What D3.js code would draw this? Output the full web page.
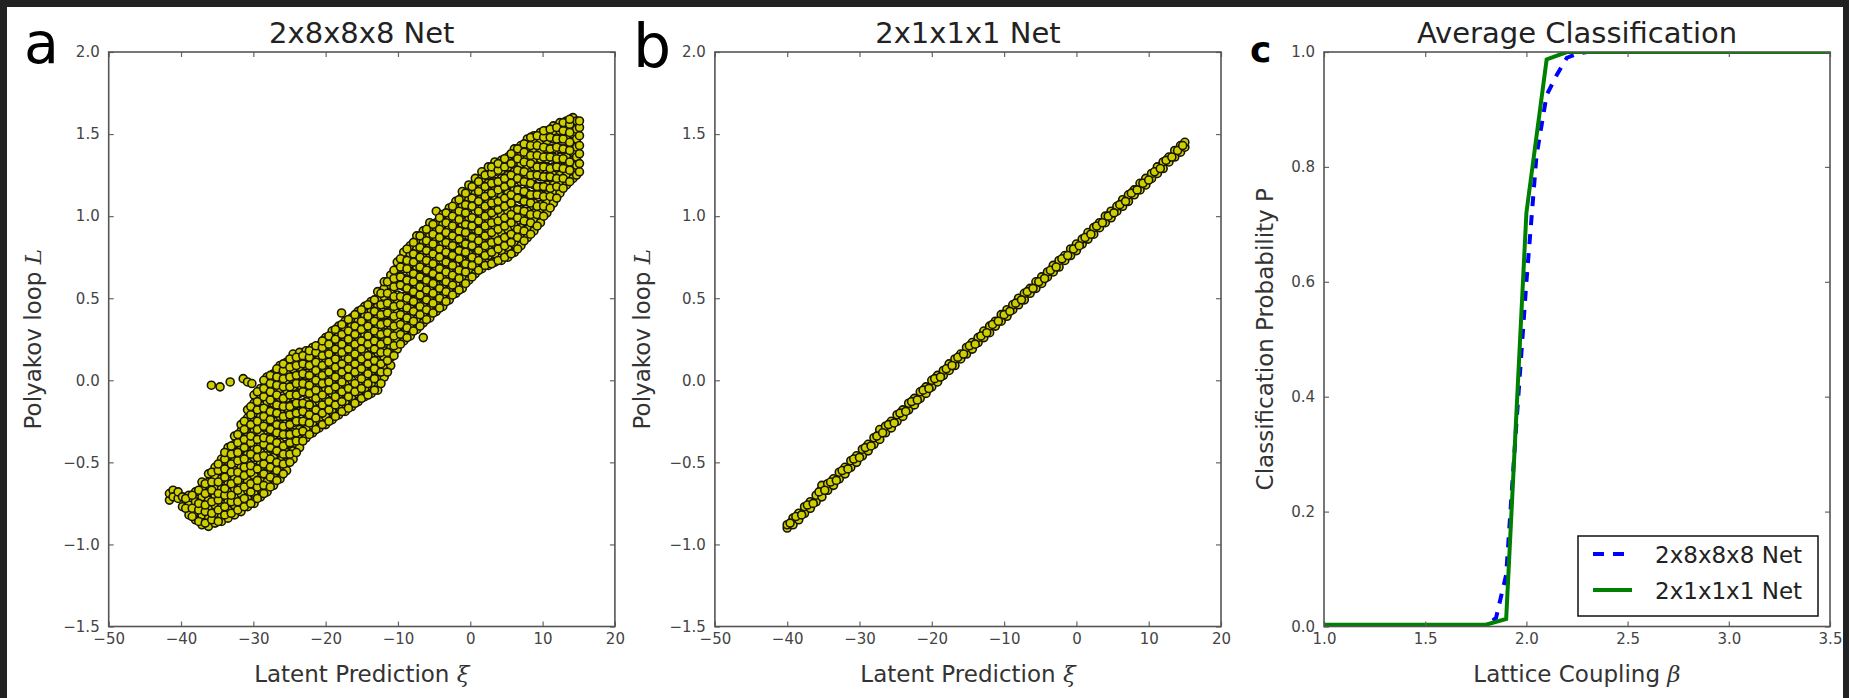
<!DOCTYPE html>
<html>
<head>
<meta charset="utf-8">
<script src="https://cdn.jsdelivr.net/npm/d3@7"></script>
<style>
body { margin: 0; background: #fff; }
text { font-family: "DejaVu Sans", sans-serif; }
</style>
</head>
<body>
<div id="fig"></div>
<script>
// ---- data ----
var latentTicks = [-50, -40, -30, -20, -10, 0, 10, 20];
var loopTicks = [-1.5, -1.0, -0.5, 0.0, 0.5, 1.0, 1.5, 2.0];
var betaTicks = [1.0, 1.5, 2.0, 2.5, 3.0, 3.5];
var probTicks = [0.0, 0.2, 0.4, 0.6, 0.8, 1.0];

var panelTitles = ["2x8x8x8 Net", "2x1x1x1 Net", "Average Classification"];
var panelLetters = ["a", "b", "c"];
var legendLabels = ["2x8x8x8 Net", "2x1x1x1 Net"];

// panel a : each row = [xi, L, L, ...]
var cloud8 = [
  [-41.6, -0.73, -0.69],
  [-41.1, -0.67, -0.71],
  [-40.4, -0.72, -0.68],
  [-39.8, -0.77, -0.71],
  [-38.9, -0.82, -0.76, -0.70],
  [-38.0, -0.85, -0.80, -0.74, -0.68],
  [-37.1, -0.88, -0.82, -0.77, -0.71, -0.66, -0.62],
  [-36.2, -0.89, -0.84, -0.78, -0.73, -0.68, -0.62, -0.57],
  [-35.8, -0.03],
  [-35.3, -0.87, -0.81, -0.76, -0.70, -0.65, -0.59, -0.53],
  [-34.6, -0.04],
  [-34.4, -0.86, -0.82, -0.77, -0.71, -0.66, -0.60, -0.55, -0.48],
  [-33.5, -0.84, -0.79, -0.74, -0.68, -0.63, -0.57, -0.52, -0.46, -0.41],
  [-33.2, -0.01],
  [-32.6, -0.82, -0.76, -0.71, -0.66, -0.60, -0.55, -0.49, -0.44, -0.39, -0.34],
  [-31.7, -0.80, -0.75, -0.69, -0.64, -0.58, -0.53, -0.47, -0.42, -0.36, -0.31, -0.27],
  [-31.4, 0.01],
  [-30.8, -0.77, -0.72, -0.67, -0.61, -0.56, -0.50, -0.45, -0.39, -0.34, -0.28, -0.23, -0.18, -0.01],
  [-30.2, -0.02],
  [-29.9, -0.75, -0.69, -0.64, -0.58, -0.53, -0.47, -0.42, -0.36, -0.31, -0.25, -0.20, -0.14, -0.09],
  [-29.0, -0.71, -0.66, -0.61, -0.55, -0.50, -0.44, -0.39, -0.33, -0.28, -0.22, -0.17, -0.11, -0.05],
  [-28.1, -0.68, -0.62, -0.57, -0.51, -0.46, -0.40, -0.35, -0.29, -0.24, -0.18, -0.13, -0.07, -0.02, 0.02],
  [-27.2, -0.64, -0.58, -0.53, -0.47, -0.42, -0.36, -0.31, -0.25, -0.20, -0.14, -0.09, -0.03, 0.04],
  [-26.3, -0.60, -0.55, -0.49, -0.44, -0.38, -0.33, -0.27, -0.22, -0.16, -0.11, -0.05, 0.00, 0.05, 0.09],
  [-25.4, -0.55, -0.50, -0.44, -0.39, -0.33, -0.28, -0.22, -0.17, -0.11, -0.06, 0.00, 0.05, 0.11],
  [-24.5, -0.48, -0.43, -0.37, -0.32, -0.26, -0.21, -0.15, -0.10, -0.04, 0.01, 0.07, 0.12, 0.16],
  [-23.6, -0.41, -0.36, -0.30, -0.25, -0.19, -0.14, -0.08, -0.03, 0.03, 0.08, 0.13, 0.17],
  [-22.7, -0.35, -0.30, -0.24, -0.19, -0.13, -0.08, -0.02, 0.03, 0.09, 0.14, 0.18],
  [-21.8, -0.32, -0.26, -0.21, -0.15, -0.10, -0.04, 0.01, 0.07, 0.12, 0.17, 0.20],
  [-20.9, -0.29, -0.24, -0.18, -0.13, -0.07, -0.02, 0.04, 0.09, 0.15, 0.21],
  [-20.0, -0.27, -0.22, -0.16, -0.11, -0.05, 0.00, 0.06, 0.11, 0.17, 0.22, 0.26],
  [-19.1, -0.24, -0.19, -0.13, -0.08, -0.02, 0.03, 0.09, 0.14, 0.20, 0.25, 0.30],
  [-18.2, -0.21, -0.16, -0.10, -0.05, 0.01, 0.06, 0.12, 0.17, 0.23, 0.28, 0.33],
  [-17.8, 0.41],
  [-17.3, -0.19, -0.13, -0.08, -0.02, 0.03, 0.09, 0.14, 0.20, 0.25, 0.31, 0.36],
  [-16.4, -0.16, -0.11, -0.05, 0.00, 0.06, 0.11, 0.17, 0.22, 0.28, 0.33, 0.38],
  [-15.5, -0.13, -0.07, -0.02, 0.04, 0.09, 0.15, 0.20, 0.26, 0.31, 0.37, 0.42],
  [-14.6, -0.10, -0.05, 0.01, 0.06, 0.12, 0.17, 0.23, 0.28, 0.34, 0.39, 0.45],
  [-13.7, -0.08, -0.02, 0.03, 0.09, 0.14, 0.20, 0.25, 0.31, 0.36, 0.42, 0.48],
  [-12.8, -0.06, 0.01, 0.06, 0.12, 0.17, 0.23, 0.28, 0.34, 0.39, 0.45, 0.50, 0.54],
  [-11.9, 0.02, 0.07, 0.13, 0.18, 0.24, 0.29, 0.35, 0.40, 0.46, 0.51, 0.56, 0.60],
  [-11.0, 0.09, 0.14, 0.20, 0.25, 0.31, 0.36, 0.42, 0.47, 0.53, 0.58, 0.64],
  [-10.1, 0.19, 0.25, 0.30, 0.36, 0.41, 0.47, 0.52, 0.58, 0.63, 0.68, 0.72],
  [-9.2, 0.24, 0.29, 0.35, 0.40, 0.46, 0.51, 0.57, 0.62, 0.68, 0.73, 0.78],
  [-8.3, 0.27, 0.33, 0.38, 0.44, 0.49, 0.55, 0.60, 0.66, 0.71, 0.77, 0.82],
  [-7.4, 0.31, 0.36, 0.42, 0.47, 0.53, 0.58, 0.64, 0.69, 0.75, 0.80, 0.85, 0.88],
  [-6.5, 0.26, 0.35, 0.40, 0.46, 0.51, 0.57, 0.62, 0.68, 0.73, 0.79, 0.84, 0.91],
  [-5.6, 0.38, 0.44, 0.49, 0.55, 0.60, 0.66, 0.71, 0.77, 0.82, 0.88, 0.93, 0.96],
  [-4.7, 0.42, 0.47, 0.53, 0.58, 0.64, 0.69, 0.75, 0.80, 0.86, 0.91, 0.96, 1.03],
  [-3.8, 0.45, 0.51, 0.56, 0.62, 0.67, 0.73, 0.78, 0.84, 0.89, 0.95, 1.01],
  [-2.9, 0.49, 0.55, 0.60, 0.66, 0.71, 0.77, 0.82, 0.88, 0.93, 0.99, 1.05],
  [-2.0, 0.53, 0.59, 0.64, 0.70, 0.75, 0.81, 0.86, 0.92, 0.97, 1.03, 1.09],
  [-1.1, 0.56, 0.62, 0.68, 0.73, 0.79, 0.84, 0.90, 0.95, 1.01, 1.06, 1.12, 1.15],
  [-0.2, 0.61, 0.66, 0.72, 0.77, 0.83, 0.88, 0.94, 0.99, 1.05, 1.10, 1.16, 1.19],
  [0.7, 0.65, 0.70, 0.76, 0.81, 0.87, 0.92, 0.98, 1.03, 1.09, 1.14, 1.20, 1.23],
  [1.6, 0.68, 0.74, 0.79, 0.85, 0.90, 0.96, 1.01, 1.07, 1.12, 1.18, 1.23, 1.27],
  [2.5, 0.70, 0.76, 0.81, 0.87, 0.92, 0.98, 1.03, 1.09, 1.14, 1.20, 1.25, 1.30],
  [3.4, 0.72, 0.77, 0.83, 0.88, 0.94, 0.99, 1.05, 1.10, 1.16, 1.21, 1.27, 1.33],
  [4.3, 0.73, 0.79, 0.84, 0.90, 0.95, 1.01, 1.06, 1.12, 1.17, 1.23, 1.28, 1.34],
  [5.2, 0.75, 0.81, 0.86, 0.92, 0.97, 1.03, 1.08, 1.14, 1.19, 1.25, 1.30, 1.36],
  [6.1, 0.78, 0.83, 0.89, 0.94, 1.00, 1.05, 1.11, 1.16, 1.22, 1.27, 1.33, 1.38, 1.41],
  [7.0, 0.82, 0.88, 0.93, 0.99, 1.04, 1.10, 1.15, 1.21, 1.26, 1.32, 1.37, 1.43],
  [7.9, 0.87, 0.92, 0.98, 1.03, 1.09, 1.14, 1.20, 1.25, 1.31, 1.36, 1.42, 1.47],
  [8.8, 0.91, 0.97, 1.02, 1.08, 1.13, 1.19, 1.24, 1.30, 1.35, 1.41, 1.46, 1.49],
  [9.7, 0.96, 1.02, 1.07, 1.13, 1.18, 1.24, 1.29, 1.35, 1.40, 1.46, 1.51],
  [10.6, 1.02, 1.08, 1.13, 1.19, 1.24, 1.30, 1.35, 1.41, 1.46, 1.52],
  [11.5, 1.08, 1.14, 1.19, 1.25, 1.30, 1.36, 1.41, 1.47, 1.52, 1.55],
  [12.4, 1.14, 1.19, 1.25, 1.30, 1.36, 1.41, 1.47, 1.52, 1.57],
  [13.3, 1.19, 1.25, 1.30, 1.36, 1.41, 1.47, 1.52, 1.58],
  [14.2, 1.23, 1.28, 1.34, 1.39, 1.45, 1.50, 1.56, 1.60],
  [14.7, 1.25, 1.31, 1.36, 1.42, 1.47, 1.53, 1.58],
  [15.1, 1.27, 1.32, 1.38, 1.43, 1.49, 1.54, 1.58]
];

// panel a, points lying between the columns above
var cloud8Mid = [
  [-39.35, -0.78, -0.72],
  [-38.45, -0.83, -0.78, -0.70],
  [-37.55, -0.86, -0.79, -0.75, -0.67],
  [-36.65, -0.87, -0.80, -0.76, -0.69, -0.63],
  [-35.75, -0.85, -0.81, -0.74, -0.67, -0.62, -0.56],
  [-34.85, -0.86, -0.79, -0.73, -0.69, -0.62, -0.55, -0.51],
  [-33.95, -0.82, -0.77, -0.70, -0.66, -0.59, -0.54, -0.48, -0.44],
  [-33.05, -0.81, -0.74, -0.70, -0.63, -0.56, -0.51, -0.45, -0.40],
  [-32.15, -0.79, -0.74, -0.67, -0.61, -0.56, -0.49, -0.44, -0.38, -0.33],
  [-31.25, -0.77, -0.72, -0.65, -0.58, -0.53, -0.48, -0.41, -0.36, -0.30, -0.25],
  [-30.35, -0.75, -0.68, -0.63, -0.56, -0.52, -0.45, -0.38, -0.34, -0.27, -0.21, -0.16],
  [-29.45, -0.72, -0.65, -0.61, -0.54, -0.47, -0.42, -0.36, -0.30, -0.25, -0.18, -0.13, -0.07],
  [-28.55, -0.69, -0.64, -0.57, -0.51, -0.46, -0.39, -0.35, -0.28, -0.22, -0.17, -0.10, -0.05, 0.00],
  [-27.65, -0.65, -0.59, -0.53, -0.48, -0.41, -0.36, -0.30, -0.24, -0.19, -0.12, -0.07, -0.02, 0.03],
  [-26.75, -0.61, -0.55, -0.50, -0.43, -0.38, -0.32, -0.27, -0.20, -0.15, -0.09, -0.03, 0.02, 0.07],
  [-25.85, -0.57, -0.51, -0.45, -0.40, -0.33, -0.28, -0.22, -0.16, -0.11, -0.04, 0.01, 0.06, 0.10],
  [-24.95, -0.50, -0.45, -0.38, -0.33, -0.27, -0.21, -0.16, -0.09, -0.04, 0.02, 0.08, 0.13],
  [-24.05, -0.44, -0.37, -0.32, -0.25, -0.20, -0.14, -0.09, -0.02, 0.03, 0.09, 0.14],
  [-23.15, -0.37, -0.31, -0.25, -0.19, -0.14, -0.07, -0.02, 0.04, 0.10, 0.15],
  [-22.25, -0.33, -0.26, -0.21, -0.15, -0.08, -0.03, 0.03, 0.09, 0.14, 0.18],
  [-21.35, -0.30, -0.23, -0.18, -0.11, -0.06, 0.00, 0.06, 0.11, 0.17, 0.21],
  [-20.45, -0.27, -0.20, -0.15, -0.09, -0.02, 0.03, 0.09, 0.15, 0.20, 0.24],
  [-19.55, -0.25, -0.18, -0.13, -0.06, -0.01, 0.05, 0.11, 0.16, 0.22, 0.27],
  [-18.65, -0.22, -0.15, -0.10, -0.04, 0.02, 0.08, 0.13, 0.19, 0.25, 0.31],
  [-17.75, -0.19, -0.13, -0.07, -0.01, 0.05, 0.10, 0.17, 0.22, 0.28, 0.34],
  [-16.85, -0.17, -0.10, -0.05, 0.02, 0.07, 0.13, 0.19, 0.25, 0.30, 0.37],
  [-15.95, -0.14, -0.07, -0.02, 0.05, 0.10, 0.16, 0.22, 0.28, 0.33, 0.40],
  [-15.05, -0.11, -0.05, 0.01, 0.07, 0.13, 0.19, 0.24, 0.31, 0.36, 0.43],
  [-14.15, -0.09, -0.02, 0.04, 0.10, 0.15, 0.22, 0.27, 0.33, 0.39, 0.46],
  [-13.25, -0.06, 0.01, 0.07, 0.12, 0.19, 0.24, 0.30, 0.36, 0.42, 0.49],
  [-12.35, -0.02, 0.05, 0.10, 0.17, 0.22, 0.28, 0.34, 0.40, 0.46, 0.53],
  [-11.45, 0.05, 0.12, 0.17, 0.24, 0.29, 0.35, 0.41, 0.47, 0.53, 0.60],
  [-10.55, 0.15, 0.21, 0.27, 0.33, 0.39, 0.45, 0.51, 0.57, 0.62, 0.67],
  [-9.65, 0.22, 0.28, 0.34, 0.40, 0.46, 0.51, 0.58, 0.63, 0.69, 0.74],
  [-8.75, 0.26, 0.32, 0.38, 0.44, 0.50, 0.56, 0.61, 0.68, 0.73, 0.80],
  [-7.85, 0.30, 0.36, 0.42, 0.48, 0.54, 0.60, 0.65, 0.72, 0.77, 0.84],
  [-6.95, 0.33, 0.40, 0.45, 0.52, 0.57, 0.63, 0.69, 0.75, 0.81, 0.88],
  [-6.05, 0.37, 0.43, 0.49, 0.55, 0.61, 0.67, 0.73, 0.79, 0.85, 0.92],
  [-5.15, 0.41, 0.47, 0.53, 0.59, 0.65, 0.71, 0.77, 0.83, 0.89, 0.95],
  [-4.25, 0.44, 0.50, 0.56, 0.63, 0.68, 0.75, 0.80, 0.87, 0.92, 0.99],
  [-3.35, 0.48, 0.54, 0.60, 0.66, 0.72, 0.78, 0.84, 0.90, 0.96, 1.02],
  [-2.45, 0.52, 0.58, 0.64, 0.70, 0.76, 0.82, 0.88, 0.94, 1.00, 1.06],
  [-1.55, 0.55, 0.62, 0.67, 0.74, 0.79, 0.86, 0.91, 0.98, 1.03, 1.10],
  [-0.65, 0.59, 0.66, 0.71, 0.78, 0.83, 0.90, 0.95, 1.02, 1.07, 1.14],
  [0.25, 0.63, 0.70, 0.75, 0.82, 0.87, 0.94, 0.99, 1.06, 1.11, 1.18],
  [1.15, 0.67, 0.73, 0.79, 0.85, 0.91, 0.97, 1.03, 1.09, 1.15, 1.21],
  [2.05, 0.70, 0.76, 0.82, 0.88, 0.94, 1.00, 1.06, 1.12, 1.18, 1.25],
  [2.95, 0.71, 0.78, 0.84, 0.90, 0.96, 1.02, 1.08, 1.14, 1.20, 1.26, 1.30],
  [3.85, 0.73, 0.80, 0.85, 0.92, 0.97, 1.04, 1.09, 1.16, 1.21, 1.28, 1.32],
  [4.75, 0.75, 0.82, 0.87, 0.94, 0.99, 1.06, 1.11, 1.18, 1.23, 1.30, 1.35],
  [5.65, 0.77, 0.84, 0.89, 0.96, 1.01, 1.08, 1.13, 1.20, 1.25, 1.32, 1.38],
  [6.55, 0.80, 0.87, 0.92, 0.99, 1.04, 1.11, 1.16, 1.23, 1.28, 1.35, 1.41],
  [7.45, 0.85, 0.91, 0.97, 1.03, 1.09, 1.15, 1.21, 1.27, 1.33, 1.39, 1.44],
  [8.35, 0.89, 0.96, 1.01, 1.08, 1.13, 1.20, 1.25, 1.32, 1.37, 1.43, 1.48],
  [9.25, 0.94, 1.01, 1.06, 1.13, 1.18, 1.25, 1.30, 1.37, 1.43, 1.49],
  [10.15, 1.00, 1.06, 1.12, 1.18, 1.24, 1.30, 1.36, 1.42, 1.48, 1.52],
  [11.05, 1.05, 1.12, 1.17, 1.24, 1.29, 1.36, 1.41, 1.48, 1.53],
  [11.95, 1.11, 1.18, 1.23, 1.30, 1.35, 1.42, 1.47, 1.54],
  [12.85, 1.17, 1.23, 1.29, 1.35, 1.41, 1.47, 1.52, 1.57],
  [13.75, 1.21, 1.28, 1.33, 1.40, 1.45, 1.51, 1.56, 1.59]
];

// panel b : each row = [xi, L, L, ...]
var line1 = [
  [-40.0, -0.90, -0.88], [-39.2, -0.88, -0.84], [-38.4, -0.85, -0.81], [-37.6, -0.81, -0.77],
  [-36.8, -0.78, -0.74], [-36.0, -0.74, -0.70], [-35.2, -0.71, -0.66, -0.64], [-34.4, -0.67, -0.63],
  [-33.6, -0.64, -0.60], [-32.8, -0.60, -0.56], [-32.0, -0.57, -0.53], [-31.2, -0.53, -0.49],
  [-30.4, -0.50, -0.46], [-29.6, -0.46, -0.42], [-28.8, -0.43, -0.39], [-28.0, -0.39, -0.35],
  [-27.2, -0.36, -0.32, -0.30], [-26.4, -0.32, -0.28], [-25.6, -0.29, -0.25], [-24.8, -0.25, -0.21],
  [-24.0, -0.22, -0.18], [-23.2, -0.18, -0.14], [-22.4, -0.15, -0.11], [-21.6, -0.11, -0.07],
  [-20.8, -0.08, -0.04], [-20.0, -0.04, 0.00], [-19.2, -0.01, 0.03], [-18.4, 0.03, 0.06],
  [-17.6, 0.06, 0.10], [-16.8, 0.09, 0.13], [-16.0, 0.13, 0.16], [-15.2, 0.16, 0.20],
  [-14.4, 0.19, 0.23], [-13.6, 0.23, 0.26], [-12.8, 0.26, 0.30], [-12.0, 0.29, 0.33],
  [-11.2, 0.33, 0.36], [-10.4, 0.36, 0.40], [-9.6, 0.39, 0.43], [-8.8, 0.43, 0.46],
  [-8.0, 0.46, 0.50], [-7.2, 0.49, 0.53], [-6.4, 0.53, 0.56], [-5.6, 0.56, 0.60],
  [-4.8, 0.59, 0.63], [-4.0, 0.63, 0.66], [-3.2, 0.66, 0.70], [-2.4, 0.69, 0.73],
  [-1.6, 0.73, 0.76], [-0.8, 0.76, 0.80], [0.0, 0.79, 0.83], [0.8, 0.83, 0.86],
  [1.6, 0.86, 0.90], [2.4, 0.89, 0.93], [3.2, 0.93, 0.96], [4.0, 0.96, 1.00],
  [4.8, 0.99, 1.03], [5.6, 1.03, 1.06], [6.4, 1.06, 1.10], [7.2, 1.09, 1.13],
  [8.0, 1.13, 1.16], [8.8, 1.16, 1.20], [9.6, 1.19, 1.23], [10.4, 1.23, 1.26],
  [11.2, 1.26, 1.30], [12.0, 1.29, 1.33], [12.8, 1.33, 1.36], [13.6, 1.36, 1.40],
  [14.4, 1.39, 1.43], [15.0, 1.42, 1.45]
];

// panel b, points between the rows above
var line1Mid = [
  [-39.6, -0.87], [-38.8, -0.83], [-38.0, -0.82], [-37.2, -0.76], [-36.4, -0.75], [-35.6, -0.68],
  [-34.8, -0.67], [-34.0, -0.62], [-33.2, -0.61], [-32.4, -0.55], [-31.6, -0.54], [-30.8, -0.48],
  [-30.0, -0.47], [-29.2, -0.41], [-28.4, -0.40], [-27.6, -0.34], [-26.8, -0.32], [-26.0, -0.27],
  [-25.2, -0.26], [-24.4, -0.20], [-23.6, -0.19], [-22.8, -0.13], [-22.0, -0.12], [-21.2, -0.06],
  [-20.4, -0.05], [-19.6, 0.01], [-18.8, 0.02], [-18.0, 0.07], [-17.2, 0.09], [-16.4, 0.14],
  [-15.6, 0.16], [-14.8, 0.21], [-14.0, 0.22], [-13.2, 0.27], [-12.4, 0.29], [-11.6, 0.34],
  [-10.8, 0.36], [-10.0, 0.40], [-9.2, 0.42], [-8.4, 0.47], [-7.6, 0.49], [-6.8, 0.54],
  [-6.0, 0.56], [-5.2, 0.60], [-4.4, 0.62], [-3.6, 0.67], [-2.8, 0.69], [-2.0, 0.74],
  [-1.2, 0.76], [-0.4, 0.80], [0.4, 0.82], [1.2, 0.87], [2.0, 0.89], [2.8, 0.94],
  [3.6, 0.96], [4.4, 1.00], [5.2, 1.02], [6.0, 1.07], [6.8, 1.09], [7.6, 1.14],
  [8.4, 1.16], [9.2, 1.20], [10.0, 1.22], [10.8, 1.27], [11.6, 1.29], [12.4, 1.34],
  [13.2, 1.36], [14.0, 1.40], [14.7, 1.43]
];

// panel c
var betaNet8 = [1.0, 1.8, 1.85, 1.9, 1.95, 2.0, 2.05, 2.1, 2.15, 2.2, 2.25, 2.3, 3.5];
var probNet8 = [0.0, 0.0, 0.015, 0.09, 0.35, 0.6, 0.82, 0.925, 0.96, 0.99, 0.997, 1.0, 1.0];
var betaNet1 = [1.0, 1.8, 1.9, 2.0, 2.1, 2.2, 3.5];
var probNet1 = [0.003, 0.003, 0.013, 0.72, 0.987, 1.0, 1.0];

// ---- figure ----
var W = 1849, H = 698;
var plotTop = 52, plotBottom = 626.5;

var svg = d3.select('#fig').append('svg').attr('width', W).attr('height', H);
svg.append('rect').attr('width', W).attr('height', H).attr('fill', '#fff');

var panels = [
  {left: 108.7, right: 614.9, xd: [-50, 20], yd: [-1.5, 2.0], xt: latentTicks, yt: loopTicks,
   xf: d3.format('d'), yf: d3.format('.1f'), ylabX: 41},
  {left: 714.9, right: 1221, xd: [-50, 20], yd: [-1.5, 2.0], xt: latentTicks, yt: loopTicks,
   xf: d3.format('d'), yf: d3.format('.1f'), ylabX: 650},
  {left: 1324, right: 1830, xd: [1.0, 3.5], yd: [0, 1], xt: betaTicks, yt: probTicks,
   xf: d3.format('.1f'), yf: d3.format('.1f'), ylabX: 1273}
];

function label(g, x, y, rot, parts, size) {
  var t = g.append('text')
    .attr('transform', 'translate(' + x + ',' + y + ') rotate(' + rot + ')')
    .attr('text-anchor', 'middle').attr('font-size', size).attr('fill', '#333');
  parts.forEach(function(p) {
    var s = t.append('tspan').text(p[0]);
    if (p[1]) s.attr('font-family', '"DejaVu Serif", serif').attr('font-style', 'italic');
  });
  return t;
}

function drawAxes(p, i) {
  var x = d3.scaleLinear().domain(p.xd).range([p.left, p.right]);
  var y = d3.scaleLinear().domain(p.yd).range([plotBottom, plotTop]);
  p.x = x; p.y = y;

  var g = svg.append('g');
  var clipId = 'clip' + i;
  g.append('clipPath').attr('id', clipId).append('rect')
    .attr('x', p.left).attr('y', plotTop)
    .attr('width', p.right - p.left).attr('height', plotBottom - plotTop);
  p.g = g;
  p.plot = g.append('g').attr('clip-path', 'url(#' + clipId + ')');
  return p;
}

function drawFrame(p) {
  var g = p.g;
  var bottom = g.append('g').attr('transform', 'translate(0,' + plotBottom + ')')
    .call(d3.axisBottom(p.x).tickValues(p.xt).tickFormat(p.xf).tickSize(-5).tickSizeOuter(0).tickPadding(7));
  var top = g.append('g').attr('transform', 'translate(0,' + plotTop + ')')
    .call(d3.axisTop(p.x).tickValues(p.xt).tickFormat('').tickSize(-5).tickSizeOuter(0));
  var left = g.append('g').attr('transform', 'translate(' + p.left + ',0)')
    .call(d3.axisLeft(p.y).tickValues(p.yt).tickFormat(p.yf).tickSize(-5).tickSizeOuter(0).tickPadding(9));
  var right = g.append('g').attr('transform', 'translate(' + p.right + ',0)')
    .call(d3.axisRight(p.y).tickValues(p.yt).tickFormat('').tickSize(-5).tickSizeOuter(0));

  [bottom, top, left, right].forEach(function(a) {
    a.select('.domain').remove();
    a.selectAll('line').attr('stroke', '#666').attr('stroke-width', 1.2);
    a.selectAll('text').attr('font-family', '"DejaVu Sans", sans-serif')
      .attr('font-size', 15).attr('fill', '#444');
  });

  g.append('rect').attr('x', p.left).attr('y', plotTop)
    .attr('width', p.right - p.left).attr('height', plotBottom - plotTop)
    .attr('fill', 'none').attr('stroke', '#555').attr('stroke-width', 1.6);
}

function scatter(p, rows, cls) {
  var pts = [];
  rows.forEach(function(r) {
    for (var k = 1; k < r.length; k++) pts.push([r[0], r[k]]);
  });
  p.plot.selectAll('.' + cls).data(pts).enter().append('circle')
    .attr('class', cls)
    .attr('cx', function(d) { return p.x(d[0]); })
    .attr('cy', function(d) { return p.y(d[1]); })
    .attr('r', 4)
    .attr('fill', '#cfcf00')
    .attr('stroke', '#161600')
    .attr('stroke-width', 1.6);
}

panels.forEach(drawAxes);

// a & b scatter
scatter(panels[0], cloud8, 'dotA');
scatter(panels[0], cloud8Mid, 'dotA2');
scatter(panels[1], line1, 'dotB');
scatter(panels[1], line1Mid, 'dotB2');

// c lines
var pc = panels[2];
var lineGen = d3.line().x(function(d) { return pc.x(d[0]); }).y(function(d) { return pc.y(d[1]); });
pc.plot.append('path')
  .datum(betaNet8.map(function(b, k) { return [b, probNet8[k]]; }))
  .attr('d', lineGen).attr('fill', 'none').attr('stroke', '#0000ff')
  .attr('stroke-width', 4).attr('stroke-dasharray', '10,9');
pc.plot.append('path')
  .datum(betaNet1.map(function(b, k) { return [b, probNet1[k]]; }))
  .attr('d', lineGen).attr('fill', 'none').attr('stroke', '#008000')
  .attr('stroke-width', 4);

panels.forEach(drawFrame);

// titles & axis labels
var mid = (plotTop + plotBottom) / 2;
panels.forEach(function(p, i) {
  svg.append('text').attr('x', (p.left + p.right) / 2).attr('y', 43)
    .attr('text-anchor', 'middle').attr('font-size', 29).attr('fill', '#222')
    .text(panelTitles[i]);
});
label(svg, (panels[0].left + panels[0].right) / 2, 682, 0, [['Latent Prediction '], ['ξ', 1]], 23);
label(svg, (panels[1].left + panels[1].right) / 2, 682, 0, [['Latent Prediction '], ['ξ', 1]], 23);
label(svg, (pc.left + pc.right) / 2, 682, 0, [['Lattice Coupling '], ['β', 1]], 23);
label(svg, panels[0].ylabX, mid, -90, [['Polyakov loop '], ['L', 1]], 23);
label(svg, panels[1].ylabX, mid, -90, [['Polyakov loop '], ['L', 1]], 23);
label(svg, pc.ylabX, mid, -90, [['Classification Probability P']], 23);

// panel letters
svg.append('text').attr('x', 24).attr('y', 63).attr('font-size', 57).attr('fill', '#000').text(panelLetters[0]);
svg.append('text').attr('x', 633).attr('y', 67).attr('font-size', 60).attr('fill', '#000').text(panelLetters[1]);
svg.append('text').attr('x', 1250).attr('y', 62).attr('font-size', 36).attr('font-weight', 'bold')
  .attr('fill', '#000').text(panelLetters[2]);

// legend
var lg = svg.append('g');
lg.append('rect').attr('x', 1578).attr('y', 536).attr('width', 240).attr('height', 80)
  .attr('fill', '#fff').attr('stroke', '#111').attr('stroke-width', 1.5);
var legendStyles = [{c: '#0000ff', dash: '11,9'}, {c: '#008000', dash: null}];
legendLabels.forEach(function(t, k) {
  var yy = 554 + k * 36;
  var ln = lg.append('line').attr('x1', 1593).attr('x2', 1632).attr('y1', yy).attr('y2', yy)
    .attr('stroke', legendStyles[k].c).attr('stroke-width', 4);
  if (legendStyles[k].dash) ln.attr('stroke-dasharray', legendStyles[k].dash);
  lg.append('text').attr('x', 1655).attr('y', yy + 8.5).attr('font-size', 23).attr('fill', '#222').text(t);
});

// dark border of the screenshot
svg.append('rect').attr('x', 0).attr('y', 0).attr('width', W).attr('height', 7).attr('fill', '#222');
svg.append('rect').attr('x', 0).attr('y', 0).attr('width', 7).attr('height', H).attr('fill', '#222');
svg.append('rect').attr('x', W - 6).attr('y', 0).attr('width', 6).attr('height', H).attr('fill', '#222');
</script>
</body>
</html>
